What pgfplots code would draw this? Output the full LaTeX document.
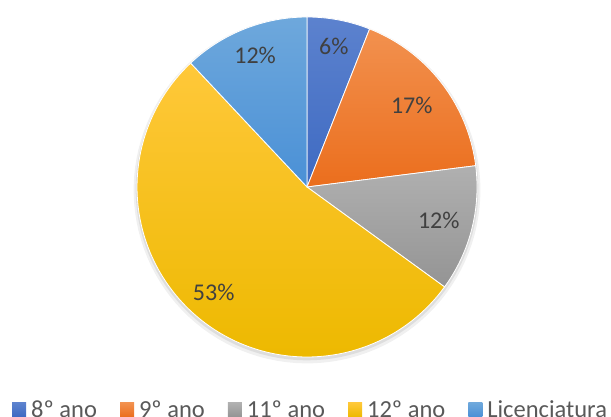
\documentclass[border=0pt]{standalone}
\usepackage{pgfplots}
\pgfplotsset{compat=1.18}
\usepackage{fontspec}
\setmainfont{Carlito}
\definecolor{cA1}{HTML}{5C82CE}\definecolor{cA2}{HTML}{3E6AC2}
\definecolor{cB1}{HTML}{F2914F}\definecolor{cB2}{HTML}{EB6E1D}
\definecolor{cC1}{HTML}{B0B0B0}\definecolor{cC2}{HTML}{949494}
\definecolor{cD1}{HTML}{FFC83A}\definecolor{cD2}{HTML}{EDB900}
\definecolor{cE1}{HTML}{6EA8DC}\definecolor{cE2}{HTML}{4A90D6}
\definecolor{lbl}{HTML}{404040}
\definecolor{leg}{HTML}{595959}
% percentages
\def\pA{6}\def\pB{17}\def\pC{12}\def\pD{53}\def\pE{12}
\begin{document}
\begin{tikzpicture}
\pgfmathsetmacro\aA{90}
\pgfmathsetmacro\aB{\aA-3.6*\pA}
\pgfmathsetmacro\aC{\aB-3.6*\pB}
\pgfmathsetmacro\aD{\aC-3.6*\pC}
\pgfmathsetmacro\aE{\aD-3.6*\pD}
\pgfmathsetmacro\aF{\aE-3.6*\pE}
\begin{axis}[
  scale only axis, width=611pt, height=417pt,
  xmin=-1.806, xmax=1.788, ymin=-1.353, ymax=1.1,
  axis lines=none, clip=false,
  legend columns=5,
  legend style={at={(rel axis cs:0.0196,0.016)}, anchor=west, draw=none, fill=none, inner sep=0pt,
    font=\fontsize{24.5}{28}\selectfont, text=leg,
    /tikz/every odd column/.append style={column sep=3pt},
    /tikz/every even column/.append style={column sep=21pt}},
  legend image code/.code={\path[#1, draw=none] (0pt,-6.5pt) rectangle (14pt,7.5pt);},
]
\addplot[fill=black, opacity=0.06, draw=none, data cs=polar, domain=0:360, samples=120, yshift=-3pt, forget plot] {1.02};
\addplot[fill=black, opacity=0.08, draw=none, data cs=polar, domain=0:360, samples=120, yshift=-2pt, forget plot] {1.008};
\addplot[top color=cA1, bottom color=cA2, draw=white, line width=0.8pt, data cs=polar, domain=\aB:\aA, samples=20] {1} -- (axis cs:0,0) -- cycle;
\addlegendentry{8º ano}
\addplot[top color=cB1, bottom color=cB2, draw=white, line width=0.8pt, data cs=polar, domain=\aC:\aB, samples=40] {1} -- (axis cs:0,0) -- cycle;
\addlegendentry{9º ano}
\addplot[top color=cC1, bottom color=cC2, draw=white, line width=0.8pt, data cs=polar, domain=\aD:\aC, samples=30] {1} -- (axis cs:0,0) -- cycle;
\addlegendentry{11º ano}
\addplot[top color=cD1, bottom color=cD2, draw=white, line width=0.8pt, data cs=polar, domain=\aE:\aD, samples=100] {1} -- (axis cs:0,0) -- cycle;
\addlegendentry{12º ano}
\addplot[top color=cE1, bottom color=cE2, draw=white, line width=0.8pt, data cs=polar, domain=\aF:\aE, samples=30] {1} -- (axis cs:0,0) -- cycle;
\addlegendentry{Licenciatura}
\addplot[only marks, mark=none, data cs=polar, nodes near coords, point meta=explicit symbolic,
  every node near coord/.style={anchor=center, text=lbl, font=\fontsize{24}{28}\selectfont}, forget plot]
  coordinates {(79.2,0.84) [6\%] (37.8,0.78) [17\%] (-14.4,0.80) [12\%] (-131.4,0.83) [53\%] (111.6,0.83) [12\%]};
\end{axis}
\pgfresetboundingbox
\path (current axis.south west) rectangle (current axis.north east);
\end{tikzpicture}
\end{document}
